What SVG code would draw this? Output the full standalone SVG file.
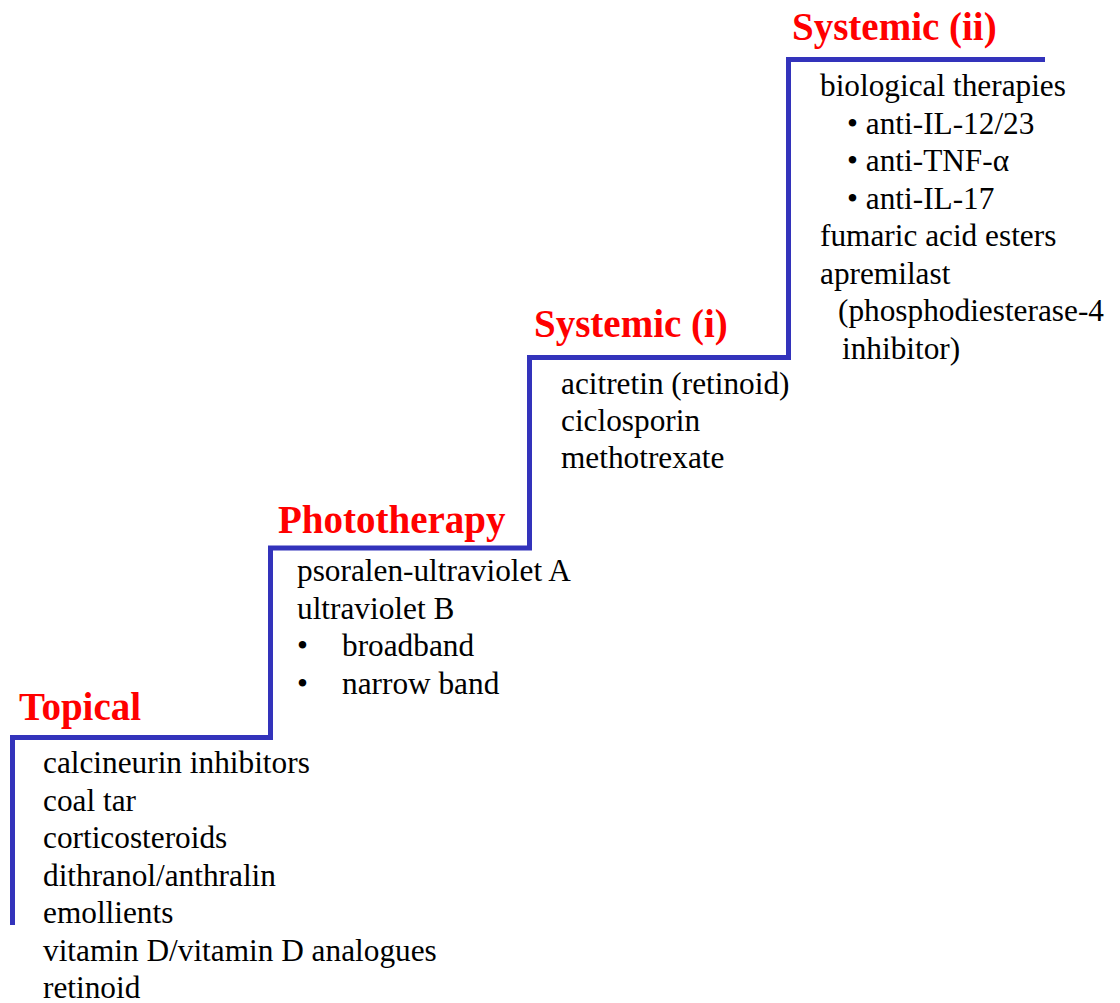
<svg xmlns="http://www.w3.org/2000/svg" width="1120" height="1003" viewBox="0 0 1120 1003">
<style>
.title{font-family:"Liberation Serif","Times New Roman",serif;font-weight:bold;font-size:39px;fill:#FF0000}
.body{font-family:"Liberation Serif","Times New Roman",serif;font-size:31.3px;fill:#000000}
.step{fill:none;stroke:#3333BB;stroke-width:5;stroke-linejoin:miter;stroke-linecap:butt}
</style>
<rect width="1120" height="1003" fill="#FFFFFF"/>
<g id="connectors">
<path class="step" d="M12.5,925 V737.5 H270.5 V548 H529.5 V357.5 H788.5 V59.5 H1045"/>
</g>
<g id="topical">
<text class="title" x="19" y="720">Topical</text>
<text class="body" x="43" y="773">calcineurin inhibitors</text>
<text class="body" x="43" y="810.5">coal tar</text>
<text class="body" x="43" y="848">corticosteroids</text>
<text class="body" x="43" y="885.5">dithranol/anthralin</text>
<text class="body" x="43" y="923">emollients</text>
<text class="body" x="43" y="960.5">vitamin D/vitamin D analogues</text>
<text class="body" x="43" y="998">retinoid</text>
</g>
<g id="phototherapy">
<text class="title" x="278" y="533">Phototherapy</text>
<text class="body" x="297" y="581">psoralen-ultraviolet A</text>
<text class="body" x="297" y="618.5">ultraviolet B</text>
<text class="body" x="297" y="656">•</text>
<text class="body" x="342" y="656">broadband</text>
<text class="body" x="297" y="693.5">•</text>
<text class="body" x="342" y="693.5">narrow band</text>
</g>
<g id="systemic-i">
<text class="title" x="534" y="337">Systemic (i)</text>
<text class="body" x="561" y="394">acitretin (retinoid)</text>
<text class="body" x="561" y="431">ciclosporin</text>
<text class="body" x="561" y="468">methotrexate</text>
</g>
<g id="systemic-ii">
<text class="title" x="792" y="40">Systemic (ii)</text>
<text class="body" x="820" y="96">biological therapies</text>
<text class="body" x="847" y="133.5">• anti-IL-12/23</text>
<text class="body" x="847" y="171">• anti-TNF-α</text>
<text class="body" x="847" y="208.5">• anti-IL-17</text>
<text class="body" x="820" y="246">fumaric acid esters</text>
<text class="body" x="820" y="283.5">apremilast</text>
<text class="body" x="838" y="321">(phosphodiesterase-4</text>
<text class="body" x="842" y="358.5">inhibitor)</text>
</g>
</svg>
